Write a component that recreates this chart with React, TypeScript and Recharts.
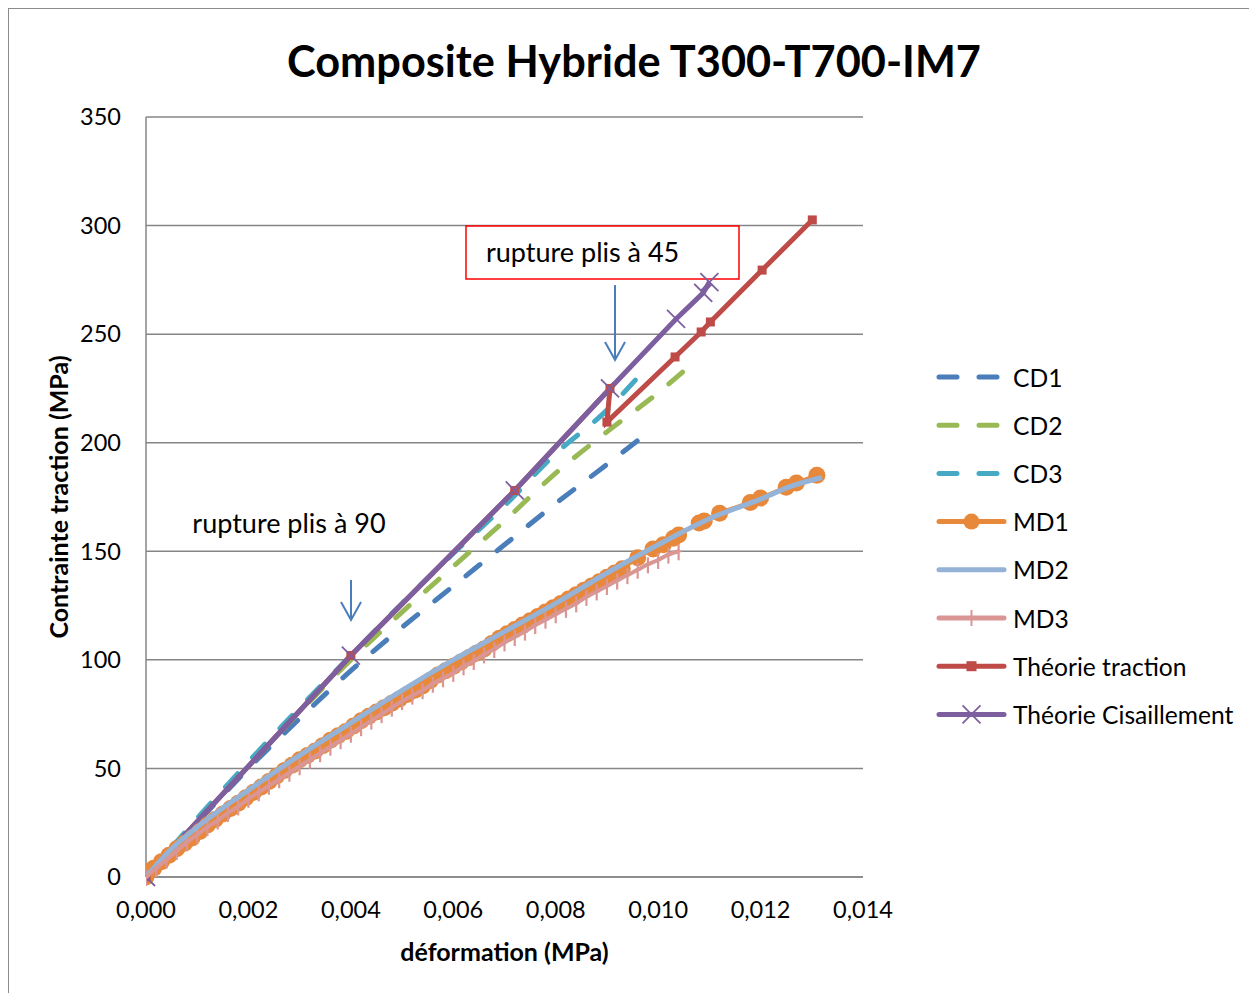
import React from 'react';
import {
  LineChart, Line, XAxis, YAxis, CartesianGrid, Legend,
  ReferenceArea, ReferenceLine, ReferenceDot,
} from 'recharts';

const FONT = 'Lato, "DejaVu Sans", sans-serif';

// ---- data ----
const X_TICKS = [0, 0.002, 0.004, 0.006, 0.008, 0.01, 0.012, 0.014];
const Y_TICKS = [0, 50, 100, 150, 200, 250, 300, 350];

const CD1 = [
  { x: 0, y: 0 }, { x: 0.001, y: 25 }, { x: 0.002, y: 50 }, { x: 0.003, y: 73 },
  { x: 0.004, y: 95 }, { x: 0.005, y: 115 }, { x: 0.006, y: 134 }, { x: 0.007, y: 153 },
  { x: 0.008, y: 172 }, { x: 0.009, y: 190 }, { x: 0.0096, y: 201 },
];
const CD2 = [
  { x: 0, y: 0 }, { x: 0.001, y: 26 }, { x: 0.002, y: 51 }, { x: 0.003, y: 76 },
  { x: 0.004, y: 100 }, { x: 0.005, y: 122 }, { x: 0.006, y: 143 }, { x: 0.007, y: 164 },
  { x: 0.008, y: 186 }, { x: 0.009, y: 205 }, { x: 0.01, y: 223 }, { x: 0.0106, y: 235 },
];
const CD3 = [
  { x: 0, y: 0 }, { x: 0.001, y: 27 }, { x: 0.002, y: 53 }, { x: 0.003, y: 78 },
  { x: 0.004, y: 102 }, { x: 0.005, y: 126 }, { x: 0.006, y: 149 }, { x: 0.007, y: 171 },
  { x: 0.008, y: 195 }, { x: 0.009, y: 215 }, { x: 0.0096, y: 230 },
];
const MD1 = [
  { x: 0, y: 0 }, { x: 0.00015, y: 4 }, { x: 0.0003, y: 7 }, { x: 0.00045, y: 10 },
  { x: 0.0006, y: 13 }, { x: 0.00075, y: 15.5 }, { x: 0.0009, y: 18 }, { x: 0.00105, y: 21 },
  { x: 0.0012, y: 24 }, { x: 0.00135, y: 26.5 }, { x: 0.0015, y: 29 }, { x: 0.00165, y: 31.5 },
  { x: 0.0018, y: 34 }, { x: 0.00195, y: 36.5 }, { x: 0.0021, y: 39 }, { x: 0.00225, y: 41.5 },
  { x: 0.0024, y: 44 }, { x: 0.00255, y: 46.5 }, { x: 0.0027, y: 49 }, { x: 0.00285, y: 51.5 },
  { x: 0.003, y: 54 }, { x: 0.00315, y: 56 }, { x: 0.0033, y: 58 }, { x: 0.00345, y: 60.5 },
  { x: 0.0036, y: 63 }, { x: 0.00375, y: 65 }, { x: 0.0039, y: 67 }, { x: 0.00405, y: 69.5 },
  { x: 0.0042, y: 72 }, { x: 0.00435, y: 74 }, { x: 0.0045, y: 76 }, { x: 0.00465, y: 78 },
  { x: 0.0048, y: 80 }, { x: 0.00495, y: 82 }, { x: 0.0051, y: 84 }, { x: 0.00525, y: 86 },
  { x: 0.0054, y: 88 }, { x: 0.00555, y: 90.5 }, { x: 0.0057, y: 93 }, { x: 0.00585, y: 95 },
  { x: 0.006, y: 97 }, { x: 0.00615, y: 99 }, { x: 0.0063, y: 101 }, { x: 0.00645, y: 103 },
  { x: 0.0066, y: 105 }, { x: 0.00675, y: 107.5 }, { x: 0.0069, y: 110 }, { x: 0.00705, y: 112 },
  { x: 0.0072, y: 114 }, { x: 0.00735, y: 116 }, { x: 0.0075, y: 118 }, { x: 0.00765, y: 120 },
  { x: 0.0078, y: 122 }, { x: 0.00795, y: 124 }, { x: 0.0081, y: 126 }, { x: 0.00825, y: 128 },
  { x: 0.0084, y: 130 }, { x: 0.00855, y: 132 }, { x: 0.0087, y: 134 }, { x: 0.00885, y: 136 },
  { x: 0.009, y: 138 }, { x: 0.00915, y: 140 }, { x: 0.0093, y: 142 }, { x: 0.0096, y: 147 },
  { x: 0.0099, y: 151 }, { x: 0.0101, y: 153 }, { x: 0.0103, y: 156 }, { x: 0.0104, y: 157.5 },
  { x: 0.0108, y: 163 }, { x: 0.0109, y: 164 }, { x: 0.0112, y: 167.5 }, { x: 0.0118, y: 172.5 },
  { x: 0.012, y: 174.5 }, { x: 0.0125, y: 179.5 }, { x: 0.0127, y: 181.5 }, { x: 0.0131, y: 185 },
];
const MD2 = [
  { x: 0, y: 0 }, { x: 0.0005, y: 13 }, { x: 0.001, y: 23 }, { x: 0.002, y: 40 },
  { x: 0.003, y: 56 }, { x: 0.004, y: 71 }, { x: 0.005, y: 86 }, { x: 0.006, y: 100 },
  { x: 0.007, y: 113 }, { x: 0.008, y: 126 }, { x: 0.009, y: 140 }, { x: 0.01, y: 153 },
  { x: 0.011, y: 165 }, { x: 0.012, y: 174 }, { x: 0.0126, y: 180 }, { x: 0.0132, y: 184 },
];
const MD3 = [
  { x: 0, y: 0 }, { x: 0.0002, y: 4 }, { x: 0.0004, y: 8 }, { x: 0.0006, y: 12 },
  { x: 0.0008, y: 16 }, { x: 0.001, y: 19.5 }, { x: 0.0012, y: 23 }, { x: 0.0014, y: 26 },
  { x: 0.0016, y: 29.5 }, { x: 0.0018, y: 32.5 }, { x: 0.002, y: 36 }, { x: 0.0022, y: 39 },
  { x: 0.0024, y: 42 }, { x: 0.0026, y: 45 }, { x: 0.0028, y: 48 }, { x: 0.003, y: 51 },
  { x: 0.0032, y: 54 }, { x: 0.0034, y: 57 }, { x: 0.0036, y: 60 }, { x: 0.0038, y: 63 },
  { x: 0.004, y: 66 }, { x: 0.0042, y: 69 }, { x: 0.0044, y: 72 }, { x: 0.0046, y: 75 },
  { x: 0.0048, y: 78 }, { x: 0.005, y: 81 }, { x: 0.0052, y: 83.5 }, { x: 0.0054, y: 86 },
  { x: 0.0056, y: 89 }, { x: 0.0058, y: 91.5 }, { x: 0.006, y: 94 }, { x: 0.0062, y: 97 },
  { x: 0.0064, y: 99.5 }, { x: 0.0066, y: 102.5 }, { x: 0.0068, y: 105 }, { x: 0.007, y: 108 },
  { x: 0.0072, y: 110.5 }, { x: 0.0074, y: 113 }, { x: 0.0076, y: 116 }, { x: 0.0078, y: 118.5 },
  { x: 0.008, y: 121 }, { x: 0.0082, y: 123.5 }, { x: 0.0084, y: 126 }, { x: 0.0086, y: 129 },
  { x: 0.0088, y: 131.5 }, { x: 0.009, y: 134 }, { x: 0.0092, y: 136.5 }, { x: 0.0094, y: 139 },
  { x: 0.0096, y: 141.5 }, { x: 0.0098, y: 144 }, { x: 0.01, y: 146 }, { x: 0.0102, y: 148.5 },
  { x: 0.0104, y: 150 },
];
const THEORIE_TRACTION = [
  { x: 0, y: 0 }, { x: 0.004, y: 102 }, { x: 0.0072, y: 178 }, { x: 0.00906, y: 225 },
  { x: 0.009, y: 209.5 }, { x: 0.01033, y: 239.5 }, { x: 0.01084, y: 251 }, { x: 0.01102, y: 255.6 },
  { x: 0.01203, y: 279.5 }, { x: 0.01301, y: 302.6 },
];
const THEORIE_CISAILLEMENT = [
  { x: 0, y: 0 }, { x: 0.004, y: 102 }, { x: 0.0072, y: 178 }, { x: 0.00906, y: 225 },
  { x: 0.01035, y: 257 }, { x: 0.01088, y: 269 }, { x: 0.011, y: 274 },
];

const C = {
  cd1: '#4A7EBB', cd2: '#98B954', cd3: '#46AAC5', md1: '#E8883B', md2: '#95B3D7',
  md3: '#D99694', trac: '#BE4B48', cis: '#7D5FA0', grid: '#868686', arrow: '#4A7EBB',
};

// ---- markers ----
const circleDot = (p: any) => (
  <circle key={`c${p.index}`} cx={p.cx} cy={p.cy} r={8.5} fill={C.md1} />
);
const tickDot = (p: any) => (
  <g key={`t${p.index}`}>
    <line x1={p.cx} x2={p.cx} y1={p.cy - 7} y2={p.cy + 9} stroke={C.md3} strokeWidth={2.2} />
    <line x1={p.cx - 3} x2={p.cx + 3} y1={p.cy} y2={p.cy} stroke={C.md3} strokeWidth={2} />
  </g>
);
const squareDot = (p: any) => (
  <rect key={`s${p.index}`} x={p.cx - 4.5} y={p.cy - 4.5} width={9} height={9} fill={C.trac} />
);
const xDot = (p: any) => (
  <g key={`x${p.index}`}>
    <line x1={p.cx - 9} x2={p.cx + 9} y1={p.cy - 9} y2={p.cy + 9} stroke={C.cis} strokeWidth={1.8} />
    <line x1={p.cx - 9} x2={p.cx + 9} y1={p.cy + 9} y2={p.cy - 9} stroke={C.cis} strokeWidth={1.8} />
  </g>
);

const LEGEND_ITEMS = [
  { name: 'CD1', color: C.cd1, dash: true, marker: 'none' },
  { name: 'CD2', color: C.cd2, dash: true, marker: 'none' },
  { name: 'CD3', color: C.cd3, dash: true, marker: 'none' },
  { name: 'MD1', color: C.md1, dash: false, marker: 'circle' },
  { name: 'MD2', color: C.md2, dash: false, marker: 'none' },
  { name: 'MD3', color: C.md3, dash: false, marker: 'tick' },
  { name: 'Théorie traction', color: C.trac, dash: false, marker: 'square' },
  { name: 'Théorie Cisaillement', color: C.cis, dash: false, marker: 'x' },
];

const renderLegend = () => {
  const rowH = 48.2;
  return (
    <svg width={320} height={400} style={{ display: 'block' }}>
      {LEGEND_ITEMS.map((it, i) => {
        const cy = 24 + i * rowH;
        const x1 = 9, x2 = 74, cx = (x1 + x2) / 2;
        return (
          <g key={it.name}>
            {it.dash ? (
              <line x1={x1} x2={x2} y1={cy} y2={cy} stroke={it.color} strokeWidth={5}
                strokeLinecap="round" strokeDasharray="18 22" />
            ) : (
              <line x1={x1} x2={x2} y1={cy} y2={cy} stroke={it.color} strokeWidth={5} strokeLinecap="round" />
            )}
            {it.marker === 'circle' && <circle cx={cx} cy={cy} r={8} fill={it.color} />}
            {it.marker === 'tick' && (
              <line x1={cx} x2={cx} y1={cy - 8} y2={cy + 8} stroke={it.color} strokeWidth={2} />
            )}
            {it.marker === 'square' && (
              <rect x={cx - 5} y={cy - 5} width={10} height={10} fill={it.color} />
            )}
            {it.marker === 'x' && (
              <g>
                <line x1={cx - 9} x2={cx + 9} y1={cy - 9} y2={cy + 9} stroke={it.color} strokeWidth={1.8} />
                <line x1={cx - 9} x2={cx + 9} y1={cy + 9} y2={cy - 9} stroke={it.color} strokeWidth={1.8} />
              </g>
            )}
            <text x={83} y={cy} dominantBaseline="central" fontFamily={FONT} fontSize={24.6} fill="#000">
              {it.name}
            </text>
          </g>
        );
      })}
    </svg>
  );
};

const arrowShape = (p: any) => {
  const { x1, y1, x2, y2 } = p;
  return (
    <g>
      <line x1={x1} y1={y1} x2={x2} y2={y2} stroke={C.arrow} strokeWidth={2} />
      <polyline points={`${x2 - 10},${y2 - 18} ${x2},${y2} ${x2 + 10},${y2 - 18}`}
        fill="none" stroke={C.arrow} strokeWidth={2} />
    </g>
  );
};

const fmtX = (v: number) => v.toFixed(3).replace('.', ',');

export default function App() {
  return (
    <div style={{
      position: 'relative', width: 1241, height: 985, boxSizing: 'border-box',
      borderLeft: '1px solid #8c8c8c', borderTop: '1px solid #8c8c8c', background: '#fff',
    }}>
      <div style={{
        position: 'absolute', left: 0, top: 26, width: 1250, textAlign: 'center',
        fontFamily: FONT, fontWeight: 700, fontSize: 43.3, lineHeight: '50px', color: '#000',
      }}>
        Composite Hybride T300-T700-IM7
      </div>
      <LineChart width={1240} height={984} margin={{ top: 108, right: 386, bottom: 16, left: 0 }}>
        <CartesianGrid vertical={false} stroke={C.grid} strokeWidth={1.5} />
        <XAxis
          type="number" dataKey="x" domain={[0, 0.014]} ticks={X_TICKS} tickFormatter={fmtX}
          height={100} tickSize={0} tickMargin={24} tickLine={false}
          axisLine={{ stroke: C.grid, strokeWidth: 1.5 }}
          tick={{ fontFamily: FONT, fontSize: 23.5, fill: '#000' }}
          allowDataOverflow
          label={{
            content: (p: any) => (
              <text x={p.viewBox.x + p.viewBox.width / 2} y={p.viewBox.y + 74} textAnchor="middle"
                dominantBaseline="central" fontFamily={FONT} fontWeight={700} fontSize={25} fill="#000">
                déformation (MPa)
              </text>
            ),
          }}
        />
        <YAxis
          type="number" domain={[0, 350]} ticks={Y_TICKS} width={137}
          tickSize={0} tickMargin={25} tickLine={false}
          axisLine={{ stroke: C.grid, strokeWidth: 1.5 }}
          tick={{ fontFamily: FONT, fontSize: 23.5, fill: '#000' }}
          label={{
            content: (p: any) => {
              const cx = p.viewBox.x + 49;
              const cy = p.viewBox.y + p.viewBox.height / 2;
              return (
                <text x={cx} y={cy} transform={`rotate(-90, ${cx}, ${cy})`} textAnchor="middle"
                  dominantBaseline="central" fontFamily={FONT} fontWeight={700} fontSize={25} fill="#000">
                  Contrainte traction (MPa)
                </text>
              );
            },
          }}
        />
        <Legend layout="horizontal" verticalAlign="middle" align="center" content={renderLegend}
          wrapperStyle={{ left: 921, top: 344, width: 320, height: 400 }} />

        <ReferenceArea x1={0.006248} x2={0.011579} y1={275.4} y2={299.8} fill="#fff" fillOpacity={1}
          stroke="#FF0000" strokeWidth={1.5}
          label={{ value: 'rupture plis à 45', position: 'insideLeft', offset: 20, fontFamily: FONT, fontSize: 27, fill: '#000' }} />
        <ReferenceDot x={0.002792} y={163} r={1} fill="none" stroke="none"
          label={{ value: 'rupture plis à 90', position: 'center', fontFamily: FONT, fontSize: 27, fill: '#000' }} />
        <ReferenceLine segment={[{ x: 0.009158, y: 272.6 }, { x: 0.009158, y: 238.1 }]} shape={arrowShape} />
        <ReferenceLine segment={[{ x: 0.004003, y: 136.8 }, { x: 0.004003, y: 118.4 }]} shape={arrowShape} />

        <Line data={CD1} dataKey="y" name="CD1" type="monotone" stroke={C.cd1} strokeWidth={5}
          strokeDasharray="18 22" strokeLinecap="round" dot={false} isAnimationActive={false} />
        <Line data={CD2} dataKey="y" name="CD2" type="monotone" stroke={C.cd2} strokeWidth={5}
          strokeDasharray="18 22" strokeLinecap="round" dot={false} isAnimationActive={false} />
        <Line data={CD3} dataKey="y" name="CD3" type="monotone" stroke={C.cd3} strokeWidth={5}
          strokeDasharray="18 22" strokeLinecap="round" dot={false} isAnimationActive={false} />
        <Line data={MD1} dataKey="y" name="MD1" type="monotone" stroke={C.md1} strokeWidth={4}
          dot={circleDot} isAnimationActive={false} />
        <Line data={MD2} dataKey="y" name="MD2" type="monotone" stroke={C.md2} strokeWidth={5}
          dot={false} isAnimationActive={false} zIndex={650} />
        <Line data={MD3} dataKey="y" name="MD3" type="monotone" stroke={C.md3} strokeWidth={4}
          dot={tickDot} isAnimationActive={false} zIndex={660} />
        <Line data={THEORIE_TRACTION} dataKey="y" name="Théorie traction" type="linear" stroke={C.trac}
          strokeWidth={5} dot={squareDot} isAnimationActive={false} />
        <Line data={THEORIE_CISAILLEMENT} dataKey="y" name="Théorie Cisaillement" type="linear" stroke={C.cis}
          strokeWidth={5} dot={xDot} isAnimationActive={false} />
      </LineChart>
    </div>
  );
}
